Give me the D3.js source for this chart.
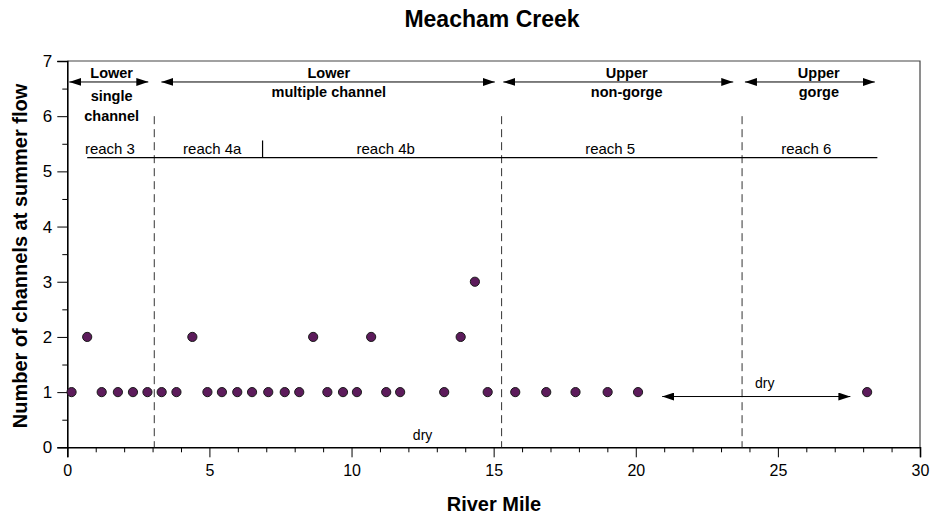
<!DOCTYPE html>
<html>
<head>
<meta charset="utf-8">
<script src="https://cdn.jsdelivr.net/npm/d3@7"></script>
<style>
  html, body { margin: 0; padding: 0; background: #fff; }
  svg { display: block; font-family: "Liberation Sans", Arial, Helvetica, sans-serif; }
</style>
</head>
<body>
<svg id="chart" width="931" height="519"></svg>
<script>
// Survey points: river mile and number of channels at summer flow
const riverMile = [0.15, 0.70, 1.21, 1.78, 2.31, 2.82, 3.32, 3.84, 4.40, 4.93, 5.44,
  5.98, 6.50, 7.07, 7.65, 8.16, 8.65, 9.15, 9.70, 10.19, 10.69, 11.22, 11.71,
  13.26, 13.84, 14.34, 14.79, 15.76, 16.85, 17.88, 19.01, 20.08, 28.14];
const channels = [1, 2, 1, 1, 1, 1, 1, 1, 2, 1, 1, 1, 1, 1, 1, 1, 2, 1, 1, 1, 2,
  1, 1, 1, 2, 3, 1, 1, 1, 1, 1, 1, 1];

// Axis ticks
const xTicks = [0, 5, 10, 15, 20, 25, 30];
const yTicks = [0, 1, 2, 3, 4, 5, 6, 7];

// Segment boundaries (river mile) drawn as dashed verticals
const segmentBreaks = [3.06, 15.28, 23.74];

// Segments: extent of each arrow and its label lines
const segmentStart = [0.07, 3.31, 15.34, 23.84];
const segmentEnd = [2.85, 15.04, 23.43, 28.41];
const segmentCenter = [1.56, 9.2, 19.68, 26.44];
const segmentLabels = [["Lower", "single", "channel"], ["Lower", "multiple channel"],
  ["Upper", "non-gorge"], ["Upper", "gorge"]];

// Reaches
const reachNames = ["reach 3", "reach 4a", "reach 4b", "reach 5", "reach 6"];
const reachCenter = [1.5, 5.1, 11.2, 19.1, 26.0];
const reachLineStart = 0.70, reachLineEnd = 28.5, reachLevel = 5.25;
const reach4Split = 6.87;

// Dry stretches
const dryLabelMile = [12.5, 24.54];
const dryLabelLevel = [0.13, 1.07];
const dryArrow = [20.93, 27.55], dryArrowLevel = 0.92;

const svg = d3.select("#chart");
const plotL = 67.3, plotR = 920, plotT = 61, plotB = 447.3;
const x = d3.scaleLinear().domain([0, 30]).range([plotL, plotR]);
const y = d3.scaleLinear().domain([0, 7]).range([plotB, plotT]);

// Title
svg.append("text").attr("x", 492).attr("y", 27).attr("text-anchor", "middle")
  .attr("font-size", 23).attr("font-weight", "bold").text("Meacham Creek");

// Frame (top and right)
svg.append("path")
  .attr("d", `M${plotL},${plotT}H${plotR}V${plotB}`)
  .attr("fill", "none").attr("stroke", "#444").attr("stroke-width", 1.2);

// Y axis
const yAxis = svg.append("g").attr("transform", `translate(${plotL},0)`)
  .call(d3.axisLeft(y).tickValues(yTicks).tickFormat(d3.format("d")).tickSize(10).tickPadding(5));
yAxis.select(".domain").attr("stroke", "#000").attr("stroke-width", 1.6);
yAxis.selectAll(".tick line").attr("stroke", "#000").attr("stroke-width", 1);
yAxis.selectAll(".tick text").attr("font-size", 17).attr("font-family", "Liberation Sans, Arial, sans-serif").attr("fill", "#000");
svg.append("g").attr("transform", `translate(${plotL},0)`)
  .call(d3.axisLeft(y).tickValues(d3.range(0.5, 7, 1)).tickFormat("").tickSize(5))
  .call(g => g.select(".domain").remove())
  .selectAll(".tick line").attr("stroke", "#000");

// X axis
const xAxis = svg.append("g").attr("transform", `translate(0,${plotB})`)
  .call(d3.axisBottom(x).tickValues(xTicks).tickFormat(d3.format("d")).tickSize(10).tickPadding(7));
xAxis.select(".domain").attr("stroke", "#000").attr("stroke-width", 1.6);
xAxis.selectAll(".tick line").attr("stroke", "#000");
xAxis.selectAll(".tick text").attr("font-size", 16).attr("font-family", "Liberation Sans, Arial, sans-serif").attr("fill", "#000");
svg.append("g").attr("transform", `translate(0,${plotB})`)
  .call(d3.axisBottom(x).tickValues(d3.range(0, 31).filter(d => d % 5 !== 0)).tickFormat("").tickSize(5))
  .call(g => g.select(".domain").remove())
  .selectAll(".tick line").attr("stroke", "#000");

// Axis titles
svg.append("text").attr("x", 494).attr("y", 511).attr("text-anchor", "middle")
  .attr("font-size", 20).attr("font-weight", "bold").text("River Mile");
svg.append("text").attr("transform", "translate(27,256) rotate(-90)").attr("text-anchor", "middle")
  .attr("font-size", 20).attr("font-weight", "bold").text("Number of channels at summer flow");

// Segment boundaries
svg.append("g").selectAll("line").data(segmentBreaks).join("line")
  .attr("x1", d => x(d)).attr("x2", d => x(d))
  .attr("y1", y(6)).attr("y2", y(0))
  .attr("stroke", "#333").attr("stroke-width", 1).attr("stroke-dasharray", "8,5");

// Arrowheads
const defs = svg.append("defs");
defs.append("marker").attr("id", "head").attr("viewBox", "0 0 12 8")
  .attr("refX", 12).attr("refY", 4).attr("markerWidth", 12).attr("markerHeight", 8)
  .attr("markerUnits", "userSpaceOnUse").attr("orient", "auto-start-reverse")
  .append("path").attr("d", "M0,0L12,4L0,8Z").attr("fill", "#000");

const arrowY = y(6.62);
svg.append("g").selectAll("line").data(segmentStart).join("line")
  .attr("x1", d => x(d)).attr("x2", (d, i) => x(segmentEnd[i]))
  .attr("y1", arrowY).attr("y2", arrowY)
  .attr("stroke", "#000").attr("stroke-width", 1)
  .attr("marker-start", "url(#head)").attr("marker-end", "url(#head)");

// Segment labels
const segG = svg.append("g").attr("font-size", 14.5).attr("font-weight", "bold").attr("text-anchor", "middle");
segmentLabels.forEach((lines, i) => {
  const first = i === 0;
  lines.forEach((t, j) => {
    const yy = j === 0 ? arrowY - 3.5 : (first ? arrowY + 19 + (j - 1) * 20 : arrowY + 15);
    segG.append("text").attr("x", x(segmentCenter[i])).attr("y", yy).text(t);
  });
});

// Reach line and labels
const rY = y(reachLevel);
svg.append("line").attr("x1", x(reachLineStart)).attr("x2", x(reachLineEnd))
  .attr("y1", rY).attr("y2", rY).attr("stroke", "#000").attr("stroke-width", 1.2);
svg.append("line").attr("x1", x(reach4Split)).attr("x2", x(reach4Split))
  .attr("y1", rY).attr("y2", y(5.56)).attr("stroke", "#000").attr("stroke-width", 1.2);
svg.append("g").attr("font-size", 15).attr("text-anchor", "middle")
  .selectAll("text").data(reachNames).join("text")
  .attr("x", (d, i) => x(reachCenter[i])).attr("y", rY - 4).text(d => d);

// Dry stretches
svg.append("g").attr("font-size", 14).attr("text-anchor", "middle")
  .selectAll("text").data(dryLabelMile).join("text")
  .attr("x", d => x(d)).attr("y", (d, i) => y(dryLabelLevel[i])).text("dry");
svg.append("line").attr("x1", x(dryArrow[0])).attr("x2", x(dryArrow[1]))
  .attr("y1", y(dryArrowLevel)).attr("y2", y(dryArrowLevel))
  .attr("stroke", "#000").attr("stroke-width", 1)
  .attr("marker-start", "url(#head)").attr("marker-end", "url(#head)");

// Points
svg.append("g").selectAll("circle").data(riverMile).join("circle")
  .attr("cx", d => x(d)).attr("cy", (d, i) => y(channels[i])).attr("r", 4.6)
  .attr("fill", "#5c1b5b").attr("stroke", "#1a1a1a").attr("stroke-width", 1);
</script>
</body>
</html>
